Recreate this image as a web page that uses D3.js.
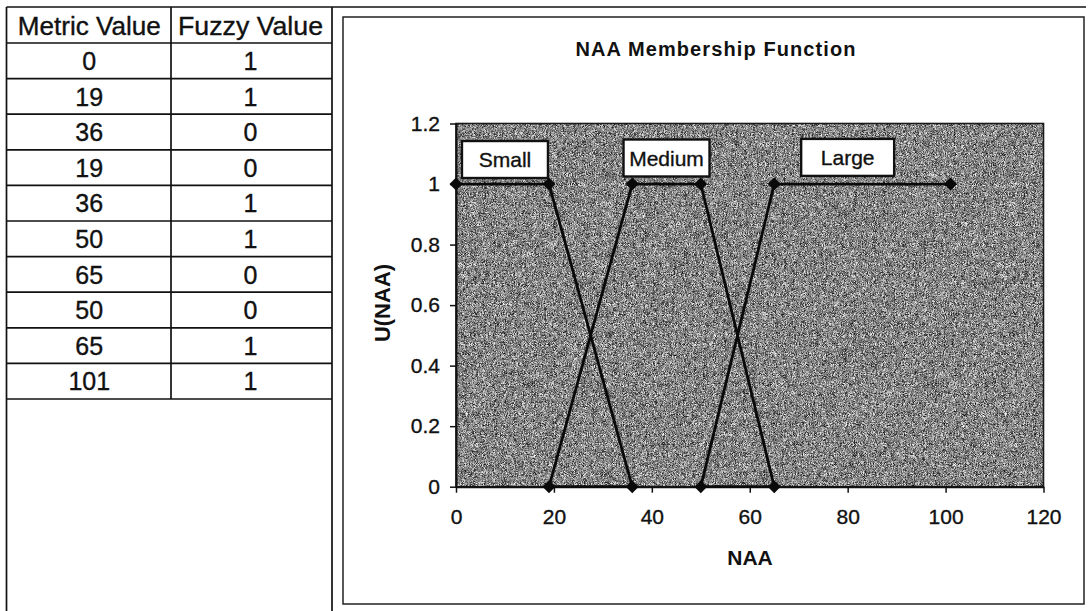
<!DOCTYPE html>
<html>
<head>
<meta charset="utf-8">
<script src="https://cdn.jsdelivr.net/npm/d3@7"></script>
<style>
  html, body { margin: 0; padding: 0; background: #fff; }
  svg { display: block; font-family: "Liberation Sans", Arial, Helvetica, sans-serif; }
</style>
</head>
<body>
<svg id="page" width="1089" height="611"></svg>
<script>
// Membership function break points (the table rows, drawn in this order)
const metricValues = [0, 19, 36, 19, 36, 50, 65, 50, 65, 101];
const fuzzyValues  = [1, 1, 0, 0, 1, 1, 0, 0, 1, 1];
const tableHeaders = ["Metric Value", "Fuzzy Value"];

// Axis ticks
const xTicks = [0, 20, 40, 60, 80, 100, 120];
const yTicks = [0, 0.2, 0.4, 0.6, 0.8, 1, 1.2];

// Set labels, anchored in data coordinates
const labelNames = ["Small", "Medium", "Large"];
const labelX = [10, 43, 80];
const labelY = [1.081, 1.086, 1.088];

const chartTitle = "NAA Membership Function";
const xTitle = "NAA";
const yTitle = "U(NAA)";

// ---------- layout ----------
const svg = d3.select("#page");
const plot = { left: 456, right: 1043.5, top: 123.5, bottom: 486.7 };
const table = { left: 6.5, right: 332, top: 7, headerBottom: 43, rowH: 35.6, colSplit: 171 };
const frame = { left: 343, right: 1084, top: 17, bottom: 604 };
const labelBoxW = [86, 86, 93];
const labelBoxH = 37;
const ink = "#111";
const textWeight = 0.35; // slight outline so regular text reads as printed

// grain filter for the plot background
const defs = svg.append("defs");
const grain = defs.append("filter").attr("id", "grain")
  .attr("x", 0).attr("y", 0).attr("width", 1).attr("height", 1)
  .attr("filterUnits", "objectBoundingBox")
  .attr("color-interpolation-filters", "sRGB");
grain.append("feTurbulence").attr("type", "fractalNoise")
  .attr("baseFrequency", 1.9).attr("numOctaves", 1).attr("seed", 11).attr("result", "n");
grain.append("feColorMatrix").attr("in", "n").attr("type", "matrix")
  .attr("values", "1.6 0 0 0 -0.28  1.6 0 0 0 -0.28  1.6 0 0 0 -0.28  0 0 0 0 1");

// ---------- table ----------
const tg = svg.append("g").attr("stroke", ink).attr("stroke-width", 1.7).attr("fill", "none");
const nRows = metricValues.length;
const tableRowsBottom = table.headerBottom + nRows * table.rowH;

// top rule running across the page
tg.append("line").attr("x1", table.left).attr("x2", 1086).attr("y1", table.top).attr("y2", table.top);
// outer sides running to the page bottom
tg.append("line").attr("x1", table.left).attr("x2", table.left).attr("y1", table.top).attr("y2", 611);
tg.append("line").attr("x1", table.right).attr("x2", table.right).attr("y1", table.top).attr("y2", 611);
// column divider
tg.append("line").attr("x1", table.colSplit).attr("x2", table.colSplit)
  .attr("y1", table.top).attr("y2", tableRowsBottom);
// row rules
const ruleYs = d3.range(nRows + 1).map(i => table.headerBottom + i * table.rowH);
tg.selectAll("line.rule").data(ruleYs).join("line").attr("class", "rule")
  .attr("x1", table.left).attr("x2", table.right).attr("y1", d => d).attr("y2", d => d);

const colCenters = [(table.left + table.colSplit) / 2 + 0.5, (table.colSplit + table.right) / 2 - 1];
const headerW = [143, 145];
svg.selectAll("text.th").data(tableHeaders).join("text").attr("class", "th")
  .attr("x", (d, i) => colCenters[i]).attr("y", table.top + 27.5)
  .attr("text-anchor", "middle").attr("font-size", 25).attr("fill", ink)
  .attr("stroke", ink).attr("stroke-width", textWeight)
  .attr("textLength", (d, i) => headerW[i]).attr("lengthAdjust", "spacingAndGlyphs")
  .text(d => d);

const rows = metricValues.map((m, i) => [m, fuzzyValues[i]]);
const rowG = svg.selectAll("g.row").data(rows).join("g").attr("class", "row")
  .attr("transform", (d, i) => `translate(0,${table.headerBottom + i * table.rowH + 27})`);
rowG.selectAll("text").data(d => d).join("text")
  .attr("x", (d, j) => colCenters[j])
  .attr("text-anchor", "middle").attr("font-size", 25).attr("fill", ink)
  .attr("stroke", ink).attr("stroke-width", textWeight)
  .text(d => d);

// ---------- chart frame ----------
svg.append("rect").attr("x", frame.left).attr("y", frame.top)
  .attr("width", frame.right - frame.left).attr("height", frame.bottom - frame.top)
  .attr("fill", "#fff").attr("stroke", "#222").attr("stroke-width", 1.5);

// ---------- scales ----------
const x = d3.scaleLinear().domain([0, 120]).range([plot.left, plot.right]);
const y = d3.scaleLinear().domain([0, 1.2]).range([plot.bottom, plot.top]);

// plot background
svg.append("rect").attr("x", plot.left).attr("y", plot.top)
  .attr("width", plot.right - plot.left).attr("height", plot.bottom - plot.top)
  .attr("fill", "#777").attr("filter", "url(#grain)");
svg.append("rect").attr("x", plot.left).attr("y", plot.top)
  .attr("width", plot.right - plot.left).attr("height", plot.bottom - plot.top)
  .attr("fill", "none").attr("stroke", "#1a1a1a").attr("stroke-width", 1.6);

// axes
const xAxis = d3.axisBottom(x).tickValues(xTicks).tickSize(6).tickSizeOuter(0).tickPadding(16)
  .tickFormat(d3.format("d"));
const yAxis = d3.axisLeft(y).tickValues(yTicks).tickSize(6).tickSizeOuter(0).tickPadding(10)
  .tickFormat(d => String(+d.toFixed(1)));

const gx = svg.append("g").attr("transform", `translate(0,${plot.bottom})`).call(xAxis);
const gy = svg.append("g").attr("transform", `translate(${plot.left},0)`).call(yAxis);
[gx, gy].forEach(g => {
  g.select(".domain").attr("stroke", ink).attr("stroke-width", 2);
  g.selectAll(".tick line").attr("stroke", ink).attr("stroke-width", 1.5);
  g.selectAll(".tick text").attr("fill", ink).attr("font-size", 21)
    .attr("stroke", ink).attr("stroke-width", textWeight)
    .attr("font-family", "'Liberation Sans', Arial, sans-serif");
});

// titles
svg.append("text").attr("x", 716).attr("y", 56).attr("text-anchor", "middle")
  .attr("font-size", 20).attr("font-weight", "bold").attr("letter-spacing", 1.1)
  .attr("fill", ink).text(chartTitle);
svg.append("text").attr("x", 750).attr("y", 565).attr("text-anchor", "middle")
  .attr("font-size", 21).attr("font-weight", "bold").attr("fill", ink).text(xTitle);
svg.append("text").attr("transform", "translate(390,303) rotate(-90)").attr("text-anchor", "middle")
  .attr("font-size", 22).attr("font-weight", "bold").attr("fill", ink).text(yTitle);

// ---------- membership line ----------
const pts = metricValues.map((m, i) => ({ x: m, y: fuzzyValues[i] }));
svg.append("path").datum(pts)
  .attr("d", d3.line().x(d => x(d.x)).y(d => y(d.y)))
  .attr("fill", "none").attr("stroke", "#0a0a0a").attr("stroke-width", 2.8)
  .attr("stroke-linejoin", "round");

const diamond = d3.symbol().type(d3.symbolSquare).size(84);
svg.selectAll("path.pt").data(pts).join("path").attr("class", "pt")
  .attr("d", diamond)
  .attr("transform", d => `translate(${x(d.x)},${y(d.y)}) rotate(45)`)
  .attr("fill", "#0a0a0a");

// ---------- set labels ----------
const lab = svg.selectAll("g.lab").data(labelNames).join("g").attr("class", "lab")
  .attr("transform", (d, i) => `translate(${x(labelX[i])},${y(labelY[i])})`);
lab.append("rect")
  .attr("x", (d, i) => -labelBoxW[i] / 2).attr("y", -labelBoxH / 2)
  .attr("width", (d, i) => labelBoxW[i]).attr("height", labelBoxH)
  .attr("fill", "#fff").attr("stroke", ink).attr("stroke-width", 2.4);
lab.append("text").attr("text-anchor", "middle").attr("y", 7.5)
  .attr("font-size", 21).attr("fill", ink)
  .attr("stroke", ink).attr("stroke-width", textWeight)
  .text(d => d);
</script>
</body>
</html>
